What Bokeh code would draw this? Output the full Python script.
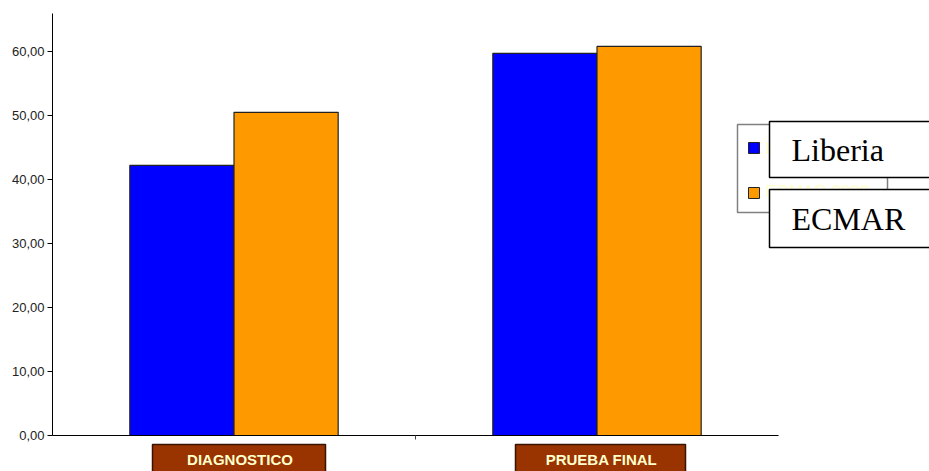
from bokeh.plotting import figure
from bokeh.models import (Range1d, FixedTicker, ColumnDataSource, Label, BoxAnnotation, LinearAxis)
from bokeh.embed import file_html
from bokeh.resources import INLINE

# ---- data ----
categories = ["DIAGNOSTICO", "PRUEBA FINAL"]
series_names = ["Liberia", "ECMAR"]
legend_hidden_names = ["Liberia", "ECMAR 2009"]
liberia = [42.2, 59.7]
ecmar = [50.5, 60.8]
y_ticks = [0, 10, 20, 30, 40, 50, 60]
y_tick_labels = ["0,00", "10,00", "20,00", "30,00", "40,00", "50,00", "60,00"]

# ---- layout constants (pixels) ----
W, H = 929, 471
FL, FR, FT, FB = 52, 778, 13, 435   # axis box edges
PX_PER_X = (FR - FL) / 2.0
PX_PER_Y = 6.4
Y_TOP = (FB - FT) / PX_PER_Y

def X(px):
    return (px - FL) / PX_PER_X

def Y(py):
    return (FB - py) / PX_PER_Y

def base(py, size):
    # baseline correction for label placement
    return Y(py - 0.36 * size)

p = figure(frame_width=W, frame_height=H,
           x_range=Range1d(X(0), X(W)), y_range=Range1d(Y(H), Y(0)),
           output_backend="svg", toolbar_location=None,
           min_border=0, x_axis_type=None, y_axis_type=None)
p.outline_line_color = None
p.xgrid.visible = False
p.ygrid.visible = False
p.background_fill_color = "white"
p.border_fill_color = "white"

bw = 0.287
n = len(categories)
centers = [i + 0.5 for i in range(n)]
src = ColumnDataSource(dict(
    xl=[c - bw / 2 for c in centers],
    xe=[c + bw / 2 for c in centers],
    lib=liberia, ecm=ecmar))
p.vbar(x="xl", top="lib", width=bw, bottom=0, source=src,
       fill_color="#0000FF", line_color="#222222", line_width=1.2)
p.vbar(x="xe", top="ecm", width=bw, bottom=0, source=src,
       fill_color="#FF9900", line_color="#222222", line_width=1.2)

# y axis at x = 0
ya = LinearAxis(ticker=FixedTicker(ticks=y_ticks), fixed_location=0, bounds=(0, Y_TOP),
                major_label_overrides={t: l for t, l in zip(y_ticks, y_tick_labels)})
ya.axis_line_color = "black"
ya.major_tick_line_color = "black"
ya.major_tick_out = 5
ya.major_tick_in = 0
ya.minor_tick_line_color = None
ya.major_label_text_font = "Liberation Sans"
ya.major_label_text_font_size = "13px"
ya.major_label_text_color = "#222222"
ya.major_label_standoff = 3
p.add_layout(ya, "left")

# x axis at y = 0 (category boundary tick only)
xa = LinearAxis(ticker=FixedTicker(ticks=[1]), fixed_location=0, bounds=(0, n),
                major_label_overrides={1: ""})
xa.axis_line_color = "black"
xa.major_tick_line_color = "#444444"
xa.major_tick_out = 4
xa.major_tick_in = 0
xa.minor_tick_line_color = None
xa.major_label_text_font_size = "1px"
p.add_layout(xa, "below")

# category label boxes
cat_boxes = [(152, 325), (515, 685)]
for (l, r), name in zip(cat_boxes, categories):
    p.add_layout(BoxAnnotation(left=X(l), right=X(r), top=Y(444), bottom=Y(480),
                               fill_color="#993300", fill_alpha=1.0,
                               line_color="#3a1200", line_alpha=1.0, line_width=1.5))
    p.add_layout(Label(x=X((l + r) / 2 + 1), y=base(464, 15), text=name,
                       text_align="center", text_baseline="alphabetic",
                       text_font="Liberation Sans", text_font_style="bold",
                       text_font_size="15px", text_color="#FFFFCC"))

# legend
p.add_layout(BoxAnnotation(left=X(737), right=X(887), top=Y(124), bottom=Y(212),
                           fill_color="white", fill_alpha=1.0,
                           line_color="#808080", line_alpha=1.0, line_width=1.5))
sq = [(142, "#0000FF"), (187, "#FF9900")]
for (t, c) in sq:
    p.add_layout(BoxAnnotation(left=X(748), right=X(759), top=Y(t), bottom=Y(t + 11),
                               fill_color=c, fill_alpha=1.0,
                               line_color="#222222", line_alpha=1.0, line_width=1))
for yy, name in zip([154, 197], legend_hidden_names):
    p.add_layout(Label(x=X(765), y=base(yy, 17), text=name, text_font="Liberation Sans",
                       text_font_size="17px", text_color="#FFFFCC",
                       text_baseline="alphabetic"))
for (t, b, bl), name in zip([(121, 177, 161), (189, 247, 230)], series_names):
    p.add_layout(BoxAnnotation(left=X(769), right=X(960), top=Y(t), bottom=Y(b),
                               fill_color="white", fill_alpha=1.0,
                               line_color="black", line_alpha=1.0, line_width=1.5))
    p.add_layout(Label(x=X(791), y=base(bl, 32), text=name, text_font="Liberation Serif",
                       text_font_size="32px", text_color="black",
                       text_baseline="alphabetic"))

open("out.html", "w").write(file_html(p, INLINE))
